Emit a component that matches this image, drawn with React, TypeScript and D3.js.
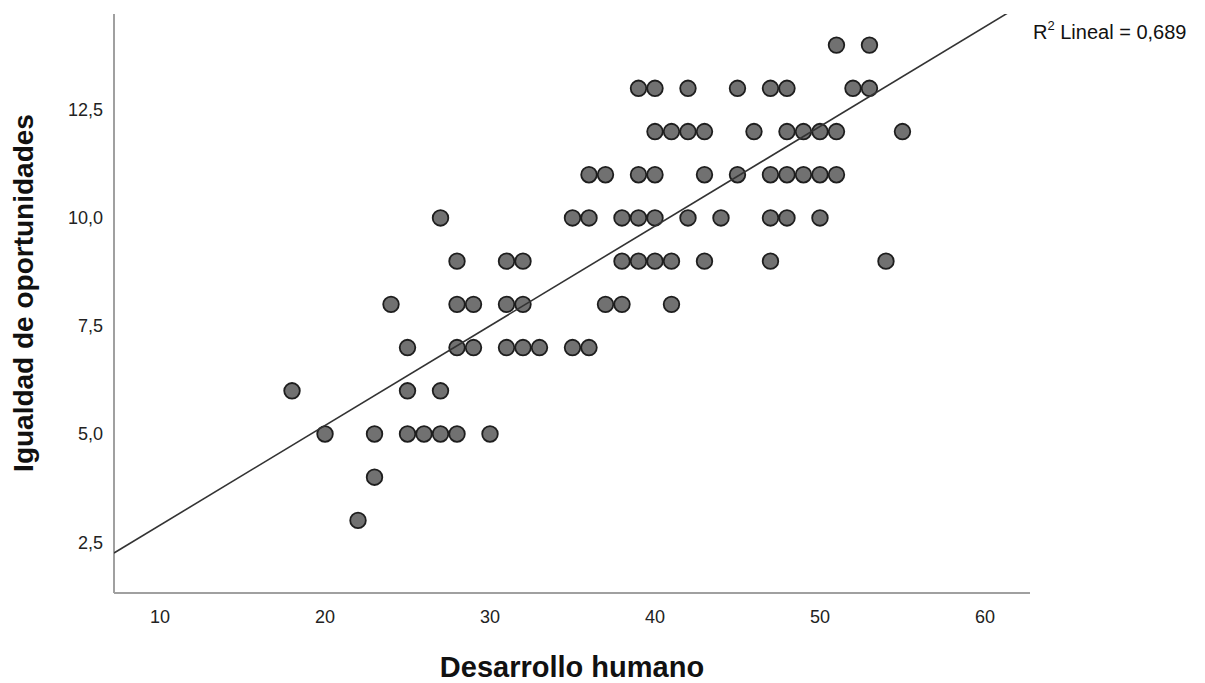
import React from "react";
import * as d3 from "d3";

// Data: Desarrollo humano (x) vs Igualdad de oportunidades (y)
const desarrollo: number[] = [
  51, 53,
  39, 40, 42, 45, 47, 48, 52, 53,
  40, 41, 42, 43, 46, 48, 49, 50, 51, 55,
  36, 37, 39, 40, 43, 45, 47, 48, 49, 50, 51,
  27, 35, 36, 38, 39, 40, 42, 44, 47, 48, 50,
  28, 31, 32, 38, 39, 40, 41, 43, 47, 54,
  24, 28, 29, 31, 32, 37, 38, 41,
  25, 28, 29, 31, 32, 33, 35, 36,
  18, 25, 27,
  20, 23, 25, 26, 27, 28, 30,
  23,
  22,
];
const igualdad: number[] = [
  14, 14,
  13, 13, 13, 13, 13, 13, 13, 13,
  12, 12, 12, 12, 12, 12, 12, 12, 12, 12,
  11, 11, 11, 11, 11, 11, 11, 11, 11, 11, 11,
  10, 10, 10, 10, 10, 10, 10, 10, 10, 10, 10,
  9, 9, 9, 9, 9, 9, 9, 9, 9, 9,
  8, 8, 8, 8, 8, 8, 8, 8,
  7, 7, 7, 7, 7, 7, 7, 7,
  6, 6, 6,
  5, 5, 5, 5, 5, 5, 5,
  4,
  3,
];
const xTicks: number[] = [10, 20, 30, 40, 50, 60];
const yTicks: number[] = [2.5, 5.0, 7.5, 10.0, 12.5];
const fitSlope = 0.2307;
const fitIntercept = 0.583;
const r2Label = "0,689";

const W = 1205;
const H = 683;
const left = 114, right = 1030, top = 14, bottom = 593;

export default function App() {
  const x = d3.scaleLinear().domain([7.21, 62.73]).range([left, right]);
  const y = d3.scaleLinear().domain([1.32, 14.72]).range([bottom, top]);
  const fmt = (v: number) => v.toFixed(1).replace(".", ",");
  const [x0, x1] = x.domain();
  const line = d3.line<number>()
    .x((v) => x(v))
    .y((v) => y(fitIntercept + fitSlope * v));
  const font = "Arial, 'Liberation Sans', sans-serif";

  return (
    <svg width={W} height={H} style={{ position: "absolute", left: 0, top: 0, background: "#fff" }} fontFamily={font}>
      <defs>
        <clipPath id="plot">
          <rect x={left} y={top} width={right - left} height={bottom - top} />
        </clipPath>
      </defs>
      <rect x={0} y={0} width={W} height={H} fill="#fff" />
      {/* axes */}
      <line x1={left} y1={top} x2={left} y2={bottom} stroke="#a0a0a0" strokeWidth={2} />
      <line x1={left} y1={bottom} x2={right} y2={bottom} stroke="#a0a0a0" strokeWidth={2} />
      {xTicks.map((t) => (
        <text key={"x" + t} x={x(t)} y={623} textAnchor="middle" fontSize={18} fill="#222">
          {t}
        </text>
      ))}
      {yTicks.map((t) => (
        <text key={"y" + t} x={103} y={y(t) + 6.5} textAnchor="end" fontSize={18} fill="#222">
          {fmt(t)}
        </text>
      ))}
      {/* points */}
      <g>
        {desarrollo.map((d, i) => (
          <circle key={i} cx={x(d)} cy={y(igualdad[i])} r={7.8} fill="#717171" stroke="#1e1e1e" strokeWidth={1.8} />
        ))}
      </g>
      {/* fit line */}
      <path d={line([x0, x1]) || ""} fill="none" stroke="#333" strokeWidth={1.6} clipPath="url(#plot)" />
      <text x={1033} y={39} fontSize={20} fill="#111">
        R<tspan fontSize={13} dy={-9}>2</tspan>
        <tspan dy={9}> Lineal = {r2Label}</tspan>
      </text>
      {/* titles */}
      <text x={572} y={677} textAnchor="middle" fontSize={29} fontWeight="bold" fill="#111">
        Desarrollo humano
      </text>
      <text transform="translate(33,293) rotate(-90)" textAnchor="middle" fontSize={28} fontWeight="bold" fill="#111">
        Igualdad de oportunidades
      </text>
    </svg>
  );
}
